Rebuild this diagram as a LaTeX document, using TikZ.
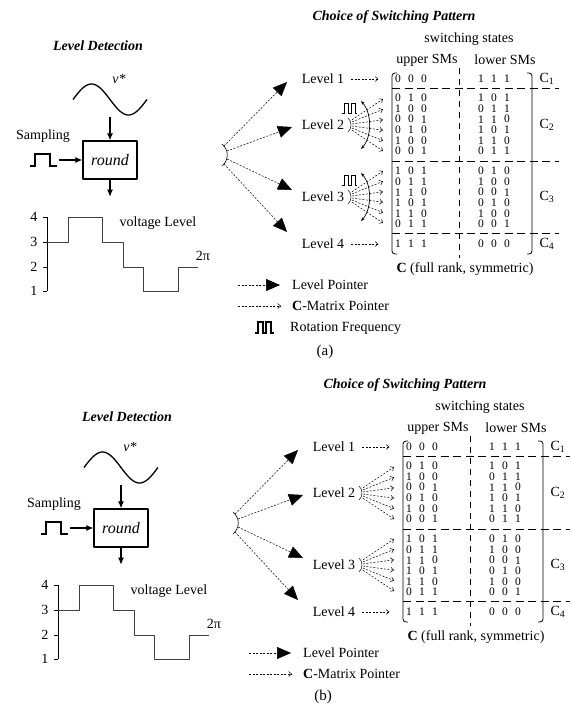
\documentclass[tikz,border=0pt]{standalone}
\usepackage{fontspec}
\setmainfont{Liberation Serif}
\usetikzlibrary{arrows.meta}

\tikzset{
  txt/.style={font=\fontsize{14}{16}\selectfont, inner sep=0pt},
  ttl/.style={font=\fontsize{14}{16}\selectfont\bfseries\itshape, inner sep=0pt},
  dig/.style={font=\fontsize{11.5}{12}\selectfont, inner sep=0pt},
  lvlptr/.style={dash pattern=on 2pt off 1.5pt, line width=0.5pt, -{Triangle[length=14pt,width=12pt]}},
  cptr/.style={dash pattern=on 2pt off 1.5pt, line width=0.5pt, -{Straight Barb[length=3pt,width=5pt]}},
  sigarrow/.style={line width=1.1pt, -{Latex[length=7pt,width=6pt]}},
  mdash/.style={dash pattern=on 8pt off 4.5pt, line width=0.8pt},
  pulsewave/.style={line width=1.1pt, line join=miter},
}

\begin{document}
\begin{tikzpicture}[x=1pt, y=-1pt, line join=round]
\useasboundingbox (0,0) rectangle (571,705);

% 1. Tieu de rieng cua (a) va (b)
\node[ttl] (ldA) at (98,46) {Level Detection};
\node[ttl] (ldB) at (127,417) {Level Detection};
\node[txt, font=\fontsize{15}{17}\selectfont] (labA) at (325,352) {(a)};
\node[txt, font=\fontsize{15}{17}\selectfont] (labB) at (323,697) {(b)};

% 2. Hai panel giong nhau
\foreach \p/\sx/\sy in {a/0/0, b/11/368} {
\begin{scope}[shift={(\sx,\sy)}]
  % 2.1 Song sin va khoi round
  \draw[line width=1.3pt] plot[domain=0:360, samples=61] ({73+\x/360*74}, {99.5-15.5*sin(\x)});
  \node[txt, font=\fontsize{14}{16}\selectfont\itshape] (vref\p) at (119,79) {v*};
  \coordinate (sinb\p) at (110,117);
  \node[draw, line width=1.4pt, minimum width=54pt, minimum height=38pt, inner sep=0pt,
        font=\fontsize{16}{18}\selectfont\itshape] (rnd\p) at (110,160) {round};
  \draw[sigarrow] (sinb\p) -- (rnd\p.north);
  \node[txt] (smp\p) at (43,136) {Sampling};
  \draw[pulsewave] (30,166) -- (35,166) -- (35,154) -- (50,154) -- (50,166) -- (57,166);
  \coordinate (smpout\p) at (59,160);
  \draw[sigarrow] (smpout\p) -- (rnd\p.west);
  \draw[sigarrow] (rnd\p.south) -- ++(0,17);

  % 2.2 Bac dien ap
  \draw[line width=0.9pt] (47,217) -- (47,291);
  \foreach \v/\y in {4/217,3/242,2/267,1/291} {
    \draw[line width=0.9pt] (43,\y) -- (47,\y);
    \node[txt] (ax\v\p) at (34,\y) {\v};
  }
  \draw[line width=0.7pt, black!75] (47,242) -| (68,217) -| (102,242) -| (123,267)
    -| (143,291) -| (178,267) -- (198,267);
  \node[txt] (vl\p) at (158,223) {voltage Level};
  \node[txt] (tpi\p) at (203,256) {2π};

  % 2.3 Ma tran C
  \node[ttl] (csp\p) at (394,17) {Choice of Switching Pattern};
  \node[txt] (sws\p) at (469,39) {switching states};
  \node[txt] (usm\p) at (427,60) {upper SMs};
  \node[txt] (lsm\p) at (505,60) {lower SMs};
  \foreach \n/\y in {1/79,2/125,3/197,4/244} {
    \node[txt] (lv\n\p) at (323,\y) {Level \n};
    \node[txt] (cc\n\p) at (547,\y) {C\textsubscript{\n}};
  }
  \draw[cptr] ([xshift=7pt]lv1\p.east) -- ++(27,0);
  \draw[cptr] ([xshift=7pt]lv4\p.east) -- ++(27,0);
  \draw[line width=0.8pt, rounded corners=3pt] (397,73) -- (392,73) -- (392,254) -- (397,254);
  \draw[line width=0.8pt, rounded corners=3pt] (527,73) -- (532,73) -- (532,254) -- (527,254);
  \draw[mdash, dash pattern=on 6pt off 5pt] (459,68) -- (459,258);
  \foreach \y in {88.5,161,233.5} \draw[mdash] (392,\y) -- (559,\y);
  \foreach \y/\ua/\ub/\uc/\la/\lb/\lc [count=\i] in {79/0/0/0/1/1/1,
      98/0/1/0/1/0/1, 108.6/1/0/0/0/1/1, 119.2/0/0/1/1/1/0, 129.8/0/1/0/1/0/1, 140.4/1/0/0/1/1/0, 151/0/0/1/0/1/1,
      171/1/0/1/0/1/0, 181.6/0/1/1/1/0/0, 192.2/1/1/0/0/0/1, 202.8/1/0/1/0/1/0, 213.4/1/1/0/1/0/0, 224/0/1/1/0/0/1,
      244/1/1/1/0/0/0} {
    \node[dig] (m\p\i-1) at (398,\y) {\ua};
    \node[dig] (m\p\i-2) at (411,\y) {\ub};
    \node[dig] (m\p\i-3) at (424,\y) {\uc};
    \node[dig] (m\p\i-4) at (481,\y) {\la};
    \node[dig] (m\p\i-5) at (494,\y) {\lb};
    \node[dig] (m\p\i-6) at (507,\y) {\lc};
  }
  \node[txt] (crk\p) at (465,269) {\textbf{C} (full rank, symmetric)};

  % 2.4 Level pointer
  \draw[line width=0.6pt] (222,144) .. controls (229,150) and (229,160) .. (222,166);
  \foreach \n/\ax/\ay/\bx/\by in {1/224/146/287/82, 2/227/151/292/127, 3/227/159/292/190, 4/224/164/287/232} {
    \coordinate (src\n\p) at (\ax,\ay);
    \coordinate (tip\n\p) at (\bx,\by);
    \draw[lvlptr] (src\n\p) -- (tip\n\p);
  }
  \foreach \n/\y in {2/125,3/197} {
    \coordinate (fan\n\p) at (352,\y);
    \draw[line width=0.5pt] (348,\y-7) .. controls (352,\y-4) and (352,\y+4) .. (348,\y+7);
    \foreach \k in {-26,-15.6,-5.2,5.2,15.6,26}
      \draw[cptr] (fan\n\p) ++(0,\k/5) -- ++(31,\k*0.8);
  }

  % 2.5 Chu thich
  \coordinate (lpa\p) at (238,285);
  \coordinate (lpb\p) at (280,285);
  \draw[lvlptr] (lpa\p) -- (lpb\p);
  \node[txt, anchor=west] (lpt\p) at (292,285) {Level Pointer};
  \coordinate (cma\p) at (238,306);
  \coordinate (cmb\p) at (281,306);
  \draw[cptr] (cma\p) -- (cmb\p);
  \node[txt, anchor=west] (cmt\p) at (292,306) {\textbf{C}-Matrix Pointer};
\end{scope}
}

% 3. Tan so quay (chi co o (a))
\foreach \y in {125,197} {
  \draw[pulsewave, line width=0.9pt] (342,\y-12) -- ++(2,0) -- ++(0,-10) -- ++(4,0) -- ++(0,10)
    -- ++(3,0) -- ++(0,-10) -- ++(4,0) -- ++(0,10) -- ++(2,0);
  \draw[{Stealth[length=4pt,width=3pt]}-{Stealth[length=4pt,width=3pt]}, line width=0.7pt]
    (361,\y-24) .. controls (372,\y-12) and (372,\y+12) .. (361,\y+24);
}
\draw[pulsewave, line width=1.7pt] (255,333) -- ++(3,0) -- ++(0,-11) -- ++(5,0) -- ++(0,11)
  -- ++(3,0) -- ++(0,-11) -- ++(5,0) -- ++(0,11) -- ++(3,0);
\node[txt, anchor=west] (rft) at (290,328) {Rotation Frequency};
\end{tikzpicture}
\end{document}
